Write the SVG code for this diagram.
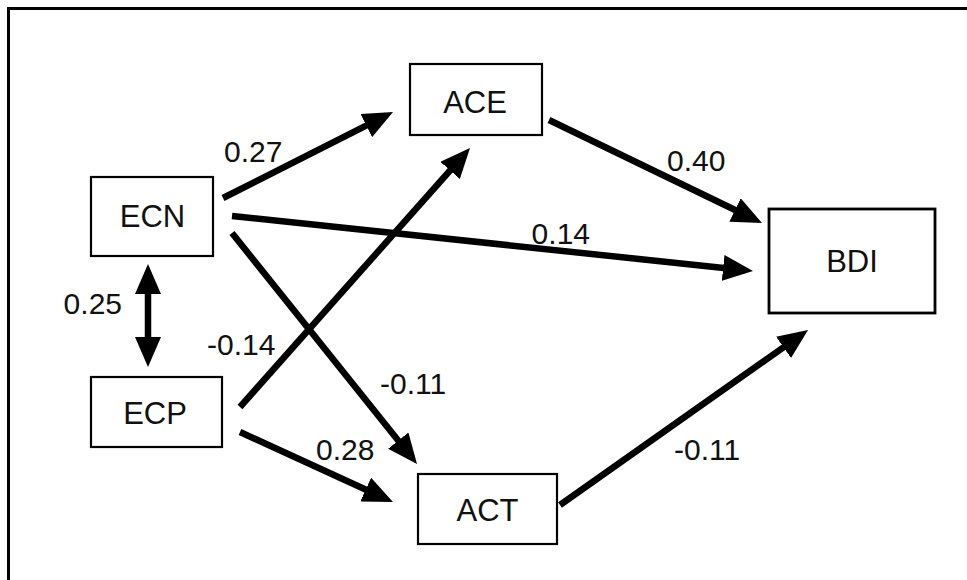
<svg xmlns="http://www.w3.org/2000/svg" width="967" height="580" viewBox="0 0 967 580">
<defs>
<style>
.node rect{fill:#fff;stroke:#000;stroke-width:2.2}
.node text{font-family:"Liberation Sans",Arial,sans-serif;font-size:31px;fill:#111;text-anchor:middle}
.lbl{font-family:"Liberation Sans",Arial,sans-serif;font-size:30px;fill:#111}
.edge{stroke:#000;stroke-width:6.5;fill:none;marker-end:url(#ah)}
</style>
<marker id="ah" markerUnits="userSpaceOnUse" markerWidth="30" markerHeight="26" refX="22" refY="13" orient="auto-start-reverse" viewBox="0 0 30 26">
<path d="M0,0 L30,13 L0,26 z" fill="#000"/>
</marker>
</defs>
<rect width="967" height="580" fill="#fff"/>
<path d="M8.5,580 V8.5 H967" fill="none" stroke="#000" stroke-width="3"/>
<g id="connectors">
<line class="edge" x1="223" y1="198" x2="385.9" y2="115.6"/>
<line class="edge" x1="232" y1="216" x2="745" y2="270.2"/>
<line class="edge" x1="549" y1="120" x2="754.8" y2="219.5"/>
<line class="edge" x1="232" y1="233" x2="412" y2="457.8"/>
<line class="edge" x1="240" y1="407" x2="464.7" y2="154"/>
<line class="edge" x1="240" y1="432" x2="385.7" y2="498.7"/>
<line class="edge" x1="560" y1="505" x2="801.5" y2="334.6"/>
<line class="edge" x1="148" y1="272" x2="148" y2="359" style="marker-start:url(#ah)"/>
<text class="lbl" x="224" y="162">0.27</text>
<text class="lbl" x="667" y="171">0.40</text>
<text class="lbl" x="590" y="244" text-anchor="end">0.14</text>
<text class="lbl" x="122" y="314" text-anchor="end">0.25</text>
<text class="lbl" x="207" y="355">-0.14</text>
<text class="lbl" x="380" y="394">-0.11</text>
<text class="lbl" x="316" y="460">0.28</text>
<text class="lbl" x="674" y="460">-0.11</text>
</g>
<g id="ECN" class="node"><rect x="91" y="177" width="122" height="79"/><text x="152.5" y="227">ECN</text></g>
<g id="ECP" class="node"><rect x="91" y="377" width="131" height="70"/><text x="155" y="424">ECP</text></g>
<g id="ACE" class="node"><rect x="410" y="64" width="132" height="71"/><text x="475" y="113">ACE</text></g>
<g id="ACT" class="node"><rect x="418" y="474" width="139" height="70"/><text x="487.5" y="521">ACT</text></g>
<g id="BDI" class="node"><rect x="769" y="209" width="166" height="104" style="stroke-width:2.8"/><text x="852" y="272">BDI</text></g>
</svg>
